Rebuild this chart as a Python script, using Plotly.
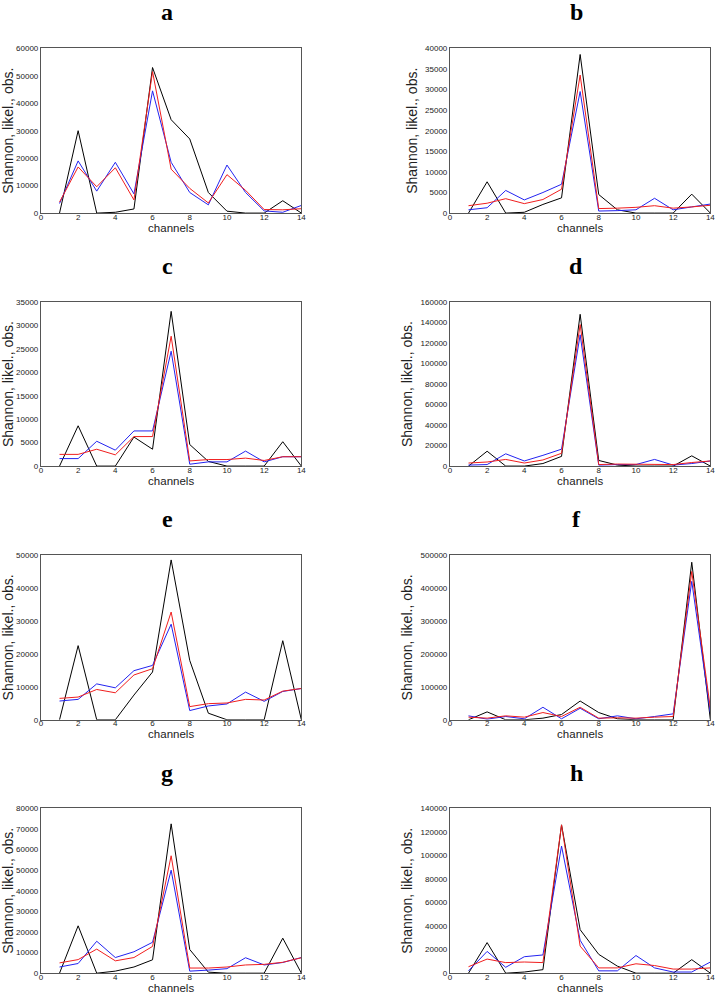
import plotly.graph_objects as go

channels = list(range(1, 15))

# Panel values: black (observed), blue (Shannon), red (likelihood)
a_black = [0, 30000, 0, 300, 1500, 53000, 34000, 27000, 7500, 700, 0, 0, 4500, 0]
a_blue = [3500, 19000, 8000, 18500, 7000, 44500, 18500, 7500, 3000, 17500, 7500, 800, 300, 2800]
a_red = [4000, 16800, 9600, 16500, 4800, 51500, 16000, 9000, 3700, 14000, 8300, 1300, 1200, 1600]

b_black = [0, 7600, 0, 200, 2100, 3700, 38500, 4500, 800, 0, 0, 0, 4600, 0]
b_blue = [800, 1300, 5500, 3200, 5000, 7000, 29500, 500, 600, 800, 3600, 800, 1500, 2200]
b_red = [1800, 2400, 3500, 2300, 3300, 5800, 33500, 1100, 1200, 1400, 1800, 1200, 1500, 1900]

c_black = [0, 8600, 0, 0, 6200, 3600, 33000, 4600, 1000, 0, 0, 0, 5200, 0]
c_blue = [1600, 1600, 5300, 3400, 7500, 7500, 24500, 400, 900, 900, 3200, 900, 2000, 2000]
c_red = [2500, 2500, 3600, 2400, 6300, 6300, 27700, 1100, 1400, 1400, 1700, 1200, 2000, 2000]

d_black = [0, 14500, 0, 0, 2500, 9500, 148000, 5500, 1000, 0, 0, 0, 10000, 0]
d_blue = [1000, 1500, 12000, 5000, 10500, 16500, 128000, 1000, 1500, 1500, 6500, 1000, 2500, 5000]
d_red = [3000, 4000, 6500, 3000, 6000, 12500, 138000, 1500, 2000, 2000, 2000, 1500, 3500, 5000]

e_black = [0, 22500, 0, 0, 7500, 14500, 48500, 18000, 2000, 0, 0, 0, 24000, 0]
e_blue = [5700, 6200, 10900, 9700, 14900, 16500, 29000, 2800, 4200, 4800, 8400, 5600, 8600, 9500]
e_red = [6500, 6900, 9200, 8200, 13600, 15500, 32700, 4000, 4900, 5100, 6200, 6000, 8700, 9500]

f_black = [0, 24000, 0, 0, 5000, 16000, 57000, 22000, 3000, 0, 0, 0, 478000, 0]
f_blue = [12000, 2000, 10000, 3000, 38000, 3000, 35000, 3000, 12000, 3000, 10000, 18000, 420000, 20000]
f_red = [8000, 5000, 12000, 8000, 22000, 10000, 38000, 5000, 6000, 5000, 8000, 10000, 450000, 35000]

g_black = [0, 23000, 0, 1000, 3000, 6500, 72500, 11500, 500, 0, 0, 0, 17000, 0]
g_blue = [3000, 4700, 15500, 7600, 10400, 15000, 50000, 1000, 1500, 2200, 7500, 4000, 5200, 7600]
g_red = [5000, 6600, 11700, 6000, 7600, 13000, 57000, 2500, 2500, 3000, 4000, 4300, 5300, 7500]

h_black = [0, 26000, 0, 1000, 3000, 126000, 37000, 16000, 6000, 0, 0, 0, 11500, 0]
h_blue = [2000, 18500, 5000, 14000, 15500, 108000, 28000, 2000, 2000, 15000, 4500, 1000, 1000, 9500]
h_red = [5500, 12000, 9000, 9500, 9000, 126000, 23000, 4500, 4500, 8000, 6500, 3500, 3500, 4500]

panel_letters = ["a", "b", "c", "d", "e", "f", "g", "h"]
y_max = [60000, 40000, 35000, 160000, 50000, 500000, 80000, 140000]
y_step = [10000, 5000, 5000, 20000, 10000, 100000, 10000, 20000]
x_ticks = [0, 2, 4, 6, 8, 10, 12, 14]

series = [
    (a_black, a_blue, a_red), (b_black, b_blue, b_red),
    (c_black, c_blue, c_red), (d_black, d_blue, d_red),
    (e_black, e_blue, e_red), (f_black, f_blue, f_red),
    (g_black, g_blue, g_red), (h_black, h_blue, h_red),
]

W, H = 722, 1000
col_px = [(39.3, 302.3), (452.3, 715.3)]
row_px = [(44.7, 211), (300.7, 466.3), (556, 722.3), (811.7, 978)]


def px_x(v):
    return min(1.0, max(0.0, v / W))


def px_y(v):
    return 1 - v / H


fig = go.Figure()
annotations = []
colors = ["#000000", "#2323f0", "#f01e1e"]
sans = "Liberation Sans, Arial"

for i, (blk, blu, red) in enumerate(series):
    r, c = divmod(i, 2)
    n = "" if i == 0 else str(i + 1)
    xa, ya = "x" + n, "y" + n
    for vals, col in zip((blk, blu, red), colors):
        fig.add_trace(go.Scatter(x=channels, y=vals, mode="lines",
                                 line=dict(color=col, width=1),
                                 xaxis=xa, yaxis=ya, showlegend=False,
                                 hoverinfo="skip"))
    x0, x1 = col_px[c]
    t, b = row_px[r]
    dom_x = [px_x(x0), px_x(x1)]
    dom_y = [px_y(b), px_y(t)]
    axis_common = dict(showline=True, mirror=True, linecolor="#555555", linewidth=1,
                       showgrid=False, zeroline=False, ticks="",
                       tickfont=dict(family=sans, size=8, color="#222"))
    fig.layout["xaxis" + n] = dict(domain=dom_x, anchor=ya, range=[0, 14],
                                   tickvals=x_ticks, ticktext=[str(v) for v in x_ticks],
                                   ticklabelstandoff=-4,
                                   title=dict(text="channels", standoff=2,
                                              font=dict(family=sans, size=11.5, color="#222")),
                                   **axis_common)
    yt = list(range(0, y_max[i] + 1, y_step[i]))
    fig.layout["yaxis" + n] = dict(domain=dom_y, anchor=xa, range=[0, y_max[i]],
                                   tickvals=yt, ticktext=[str(v) for v in yt],
                                   title=dict(text="Shannon, likel., obs.", standoff=4,
                                              font=dict(family=sans, size=14, color="#222")),
                                   **axis_common)
    annotations.append(dict(text="<b>%s</b>" % panel_letters[i], xref="paper", yref="paper",
                            x=px_x((x0 + x1) / 2 - 4), y=px_y(t - 21),
                            xanchor="center", yanchor="bottom", showarrow=False,
                            font=dict(family="Liberation Serif, Times New Roman", size=24, color="#000")))

fig.update_layout(width=W, height=H, margin=dict(l=0, r=0, t=0, b=0),
                  paper_bgcolor="white", plot_bgcolor="white",
                  hovermode=False, annotations=annotations)
fig.write_html("out.html", config={"displayModeBar": False},
               post_script="document.body.style.margin='0';document.body.style.overflow='hidden';")
